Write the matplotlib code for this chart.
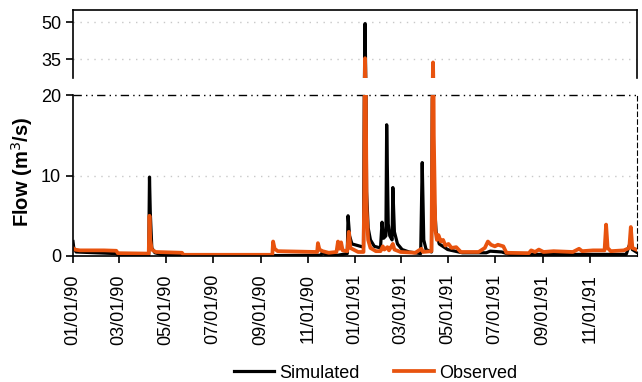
import matplotlib
matplotlib.use("Agg")
import matplotlib.pyplot as plt
import matplotlib.dates as mdates
import numpy as np
import pandas as pd

plt.rcParams['font.family'] = ['Liberation Sans', 'DejaVu Sans']

obs_dates = ["1990-01-01","1990-01-03","1990-01-10","1990-02-10","1990-02-26","1990-02-28",
             "1990-04-09","1990-04-10","1990-04-11","1990-04-13","1990-04-18","1990-05-22","1990-05-24",
             "1990-09-16","1990-09-17","1990-09-19","1990-09-23","1990-11-13","1990-11-14","1990-11-16",
             "1990-11-20","1990-11-28","1990-12-08","1990-12-10","1990-12-12","1990-12-14","1990-12-16",
             "1990-12-22","1990-12-24","1990-12-26","1991-01-05","1991-01-12","1991-01-13","1991-01-14",
             "1991-01-15","1991-01-16","1991-01-18","1991-01-21","1991-01-28","1991-02-03","1991-02-06",
             "1991-02-08","1991-02-12","1991-02-14","1991-02-19","1991-02-21","1991-03-01","1991-03-20",
             "1991-03-28","1991-03-30","1991-04-10","1991-04-11","1991-04-12","1991-04-13","1991-04-15",
             "1991-04-17","1991-04-19","1991-04-22","1991-04-25","1991-04-28","1991-05-02","1991-05-06",
             "1991-05-12","1991-05-18","1991-06-10","1991-06-18","1991-06-22","1991-06-26","1991-07-01",
             "1991-07-05","1991-07-12","1991-07-16","1991-08-14","1991-08-17","1991-08-22","1991-08-27",
             "1991-09-02","1991-09-15","1991-10-10","1991-10-18","1991-10-22","1991-11-05","1991-11-20",
             "1991-11-22","1991-11-24","1991-11-28","1991-12-15","1991-12-22","1991-12-24","1991-12-26",
             "1991-12-31"]
obs_values = [1.0,0.8,0.7,0.7,0.65,0.35,
              0.3,5.0,2.0,0.8,0.5,0.4,0.15,
              0.15,1.8,0.9,0.6,0.5,1.6,0.8,
              0.6,0.4,0.5,1.8,0.9,1.7,0.7,
              0.6,3.0,1.0,0.5,0.5,8.0,35.5,
              20.0,6.0,2.0,1.0,0.6,0.6,1.2,
              0.8,1.1,0.7,1.5,0.8,0.5,0.4,
              0.9,0.5,0.6,15.0,33.8,15.0,3.2,
              2.0,2.6,1.8,2.0,1.3,1.5,1.0,
              1.1,0.5,0.5,1.0,1.8,1.4,1.2,
              1.4,1.2,0.4,0.35,0.7,0.5,0.8,
              0.5,0.6,0.5,0.9,0.6,0.7,0.7,
              3.9,1.0,0.6,0.7,1.0,3.6,1.0,
              0.8]

sim_dates = ["1990-01-01","1990-01-02","1990-01-05","1990-02-26","1990-02-28","1990-04-09",
             "1990-04-10","1990-04-11","1990-04-13","1990-04-17","1990-04-25","1990-05-20",
             "1990-09-15","1990-11-18","1990-11-20","1990-11-23","1990-12-10","1990-12-22",
             "1990-12-23","1990-12-25","1990-12-28","1991-01-12","1991-01-13","1991-01-14",
             "1991-01-15","1991-01-16","1991-01-18","1991-01-21","1991-01-26","1991-02-03",
             "1991-02-05","1991-02-07","1991-02-10","1991-02-11","1991-02-13","1991-02-15",
             "1991-02-18","1991-02-19","1991-02-21","1991-02-25","1991-03-03","1991-03-12",
             "1991-03-27","1991-03-29","1991-03-31","1991-04-03","1991-04-10","1991-04-11",
             "1991-04-12","1991-04-13","1991-04-16","1991-04-20","1991-05-01","1991-05-20",
             "1991-06-20","1991-06-25","1991-07-10","1991-07-20","1991-12-18","1991-12-23",
             "1991-12-24","1991-12-26","1991-12-31"]
sim_values = [1.8,1.0,0.5,0.3,0.1,0.1,
              9.8,5.5,1.0,0.4,0.2,0.1,
              0.05,0.1,0.5,0.2,0.1,0.3,
              5.0,2.5,1.5,1.1,20.0,49.5,
              25.0,8.0,3.5,2.0,1.2,1.0,
              4.2,2.2,2.5,16.3,4.0,2.5,
              2.0,8.5,3.0,1.5,0.8,0.5,
              0.3,11.6,2.0,0.8,0.5,19.5,
              20.5,7.8,3.0,1.5,0.8,0.4,
              0.4,0.6,0.5,0.2,0.2,1.6,
              2.0,0.8,0.5]

obs_t = pd.to_datetime(obs_dates)
sim_t = pd.to_datetime(sim_dates)
tick_dates = pd.date_range("1990-01-01", "1991-11-01", freq="2MS")

ORANGE = "#e8530e"

fig = plt.figure(figsize=(6.42, 3.82), dpi=100)
L, R = 73/642, 637/642
ax_top = fig.add_axes([L, 1-78/382, R-L, (78-10)/382])
ax_bot = fig.add_axes([L, 1-256/382, R-L, (256-95)/382])

xmin, xmax = pd.Timestamp("1990-01-01"), pd.Timestamp("1992-01-01")

for ax in (ax_top, ax_bot):
    ax.plot(sim_t, sim_values, color="black", lw=2.3, label="Simulated")
    ax.plot(obs_t, obs_values, color=ORANGE, lw=2.7, label="Observed")
    ax.set_xlim(xmin, xmax)
    ax.tick_params(axis="both", direction="out", length=5, width=1.2, labelsize=13)

# top panel
ax_top.set_ylim(27.5, 55)
ax_top.set_yticks([35, 50])
ax_top.spines["bottom"].set_visible(False)
ax_top.tick_params(axis="x", bottom=False, labelbottom=False)
for v in [35, 50]:
    ax_top.axhline(v, color="#c8c8c8", lw=1.0, ls=(0, (1, 4)), zorder=0)
for s in ("top", "left", "right"):
    ax_top.spines[s].set_linewidth(1.2)

# bottom panel
ax_bot.set_ylim(0, 20)
ax_bot.set_yticks([0, 10, 20])
ax_bot.spines["top"].set_visible(False)
ax_bot.spines["right"].set_linestyle((0, (4, 3)))
ax_bot.spines["left"].set_linewidth(1.2)
ax_bot.spines["bottom"].set_linewidth(1.2)
ax_bot.axhline(10, color="#c8c8c8", lw=1.0, ls=(0, (1, 4)), zorder=0)
ax_bot.axhline(20, color="black", lw=1.0, ls=(0, (6, 3, 1, 3, 1, 3)), clip_on=False, zorder=0)
ax_bot.set_xticks(tick_dates)
ax_bot.xaxis.set_major_formatter(mdates.DateFormatter("%m/%d/%y"))
ax_bot.tick_params(axis="x", pad=8)
for lbl in ax_bot.get_xticklabels():
    lbl.set_rotation(90)
ax_bot.set_ylabel("Flow (m$^3$/s)", fontsize=14.5, fontweight="bold")
ax_bot.yaxis.set_label_coords(-0.067, 0.52)

handles, labels = ax_bot.get_legend_handles_labels()
fig.legend(handles, labels, loc="center", bbox_to_anchor=(376/642, 1-373/382), ncol=2,
           frameon=False, fontsize=13, handlelength=2.2, columnspacing=1.9, handletextpad=0.3)

fig.savefig("out.png", dpi=100)
